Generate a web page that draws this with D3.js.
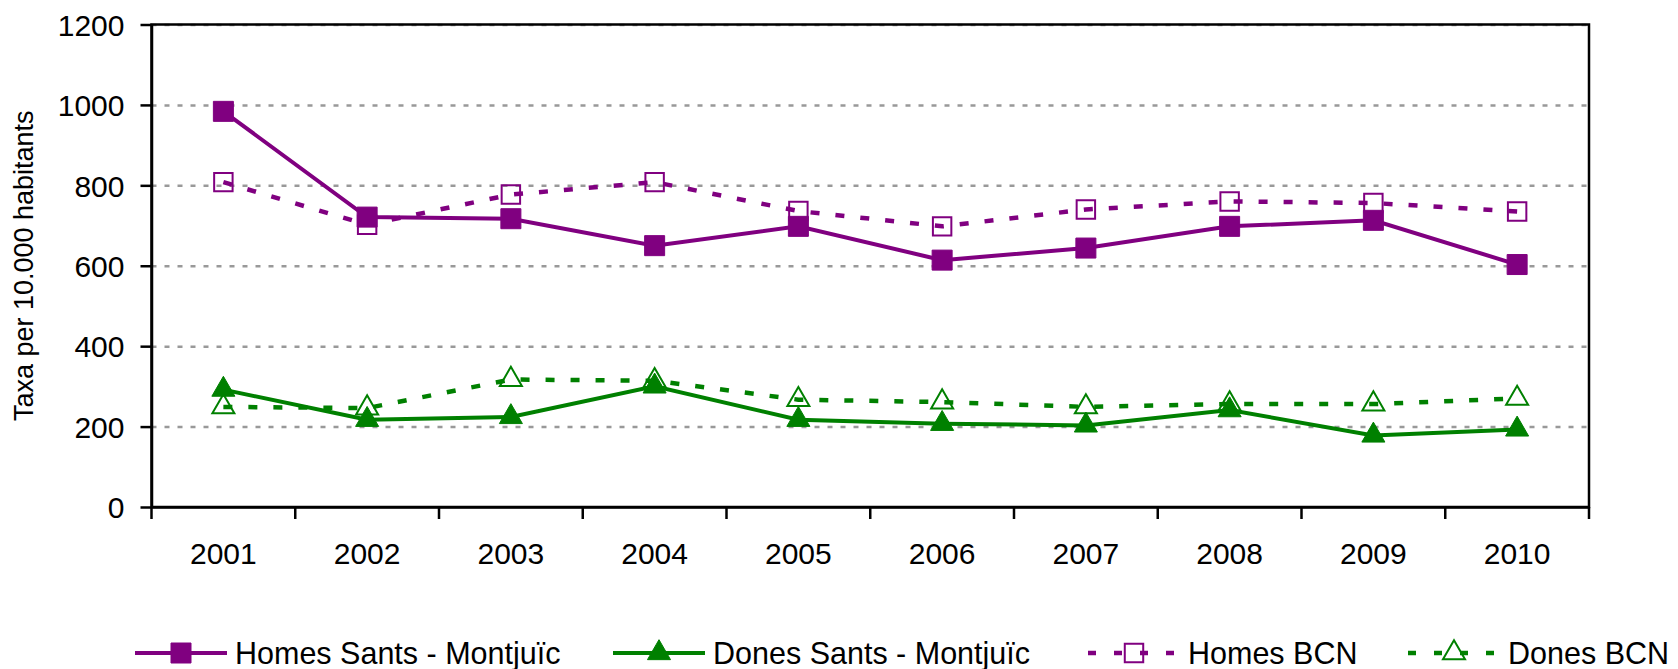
<!DOCTYPE html>
<html>
<head>
<meta charset="utf-8">
<script src="https://cdn.jsdelivr.net/npm/d3@7"></script>
<style>
  body { margin: 0; background: #fff; }
  svg { display: block; font-family: "Liberation Sans", Arial, Helvetica, sans-serif; }
  .grid line { stroke: #999; stroke-width: 2.5; stroke-dasharray: 5, 8; }
  .grid path { display: none; }
  .axis text { font-size: 30px; fill: #000; }
  .axis line, .axis path { stroke: #000; stroke-width: 2.5; }
</style>
</head>
<body>
<svg width="1678" height="669"></svg>
<script>
const years = ['2001', '2002', '2003', '2004', '2005', '2006', '2007', '2008', '2009', '2010']
const yTicks = [0, 200, 400, 600, 800, 1000, 1200]

const homesSants = [984, 721, 717, 650, 698, 614, 644, 698, 713, 603]
const donesSants = [292, 217, 224, 300, 217, 207, 203, 241, 178, 193]
const homesBcn = [808, 702, 777, 808, 736, 698, 740, 760, 756, 735]
const donesBcn = [249, 246, 317, 314, 267, 261, 249, 256, 256, 270]

const series = [
  {name: 'Homes Sants - Montjuïc', values: homesSants, color: '#800080', dashed: false, shape: 'square', filled: true},
  {name: 'Dones Sants - Montjuïc', values: donesSants, color: '#008000', dashed: false, shape: 'triangle', filled: true},
  {name: 'Homes BCN', values: homesBcn, color: '#800080', dashed: true, shape: 'square', filled: false},
  {name: 'Dones BCN', values: donesBcn, color: '#008000', dashed: true, shape: 'triangle', filled: false}
]
// legend item left edges (layout only)
const legendX = [135, 613, 1088, 1408]

const svg = d3.select('svg')
const margin = {top: 24.5, right: 89, bottom: 162, left: 151.5}
const width = +svg.attr('width') - margin.left - margin.right
const height = +svg.attr('height') - margin.top - margin.bottom
const g = svg.append('g').attr('transform', `translate(${margin.left},${margin.top})`)

const x = d3.scaleBand().domain(years).range([0, width])
const y = d3.scaleLinear().domain([0, 1200]).range([height, 0])

const symbolFor = (s) => s.shape === 'square'
  ? d3.symbol().type(d3.symbolSquare).size(s.filled ? 400 : 340)
  : d3.symbol().type(d3.symbolTriangle).size(s.filled ? 230 : 210)

// gridlines
g.append('g')
  .attr('class', 'grid')
  .call(d3.axisLeft(y).tickValues(yTicks.slice(1)).tickSize(-width).tickFormat(''))

// frame
g.append('rect')
  .attr('width', width)
  .attr('height', height)
  .attr('fill', 'none')
  .attr('stroke', '#000')
  .attr('stroke-width', 2.5)

const yAxis = g.append('g')
  .attr('class', 'axis')
  .call(d3.axisLeft(y).tickValues(yTicks).tickFormat(d3.format('d')).tickSize(11).tickPadding(16).tickSizeOuter(0))
yAxis.selectAll('text').attr('dy', '0.36em')

const xAxis = g.append('g')
  .attr('class', 'axis')
  .attr('transform', `translate(0,${height})`)
  .call(d3.axisBottom(x).tickSize(0).tickPadding(36).tickSizeOuter(0))
xAxis.selectAll('text').attr('dy', '0.71em')

// ticks on category boundaries
xAxis.selectAll('.bound')
  .data(years.concat(['end']))
  .enter().append('line')
  .attr('class', 'bound')
  .attr('x1', (d) => d === 'end' ? width : x(d))
  .attr('x2', (d) => d === 'end' ? width : x(d))
  .attr('y1', 0)
  .attr('y2', 12)

svg.append('text')
  .attr('transform', `translate(33,${margin.top + height / 2}) rotate(-90)`)
  .attr('text-anchor', 'middle')
  .style('font-size', '27px')
  .text('Taxa per 10.000 habitants')

const line = d3.line()
  .x((d, i) => x(years[i]) + x.bandwidth() / 2)
  .y((d) => y(d))

const drawOrder = [series[2], series[3], series[0], series[1]]
drawOrder.forEach((s) => {
  g.append('path')
    .datum(s.values)
    .attr('fill', 'none')
    .attr('stroke', s.color)
    .attr('stroke-width', s.dashed ? 4.5 : 4)
    .attr('stroke-dasharray', s.dashed ? '9,16' : null)
    .attr('d', line)

  g.selectAll(null)
    .data(s.values)
    .enter().append('path')
    .attr('transform', (d, i) => `translate(${x(years[i]) + x.bandwidth() / 2},${y(d)})`)
    .attr('d', symbolFor(s))
    .attr('fill', s.filled ? s.color : 'none')
    .attr('stroke', s.color)
    .attr('stroke-width', s.filled ? 1 : 2)
})

// legend
const legend = svg.append('g').attr('transform', 'translate(0,653)')
series.forEach((s, i) => {
  const item = legend.append('g').attr('transform', `translate(${legendX[i]},0)`)
  item.append('line')
    .attr('x1', 0)
    .attr('x2', 92)
    .attr('stroke', s.color)
    .attr('stroke-width', s.dashed ? 4.5 : 4)
    .attr('stroke-dasharray', s.dashed ? '8,18' : null)
  item.append('path')
    .attr('transform', 'translate(46,0)')
    .attr('d', symbolFor(s))
    .attr('fill', s.filled ? s.color : 'none')
    .attr('stroke', s.color)
    .attr('stroke-width', s.filled ? 1 : 2)
  item.append('text')
    .attr('x', 100)
    .attr('y', 10.5)
    .style('font-size', '30.5px')
    .text(s.name)
})
</script>
</body>
</html>
